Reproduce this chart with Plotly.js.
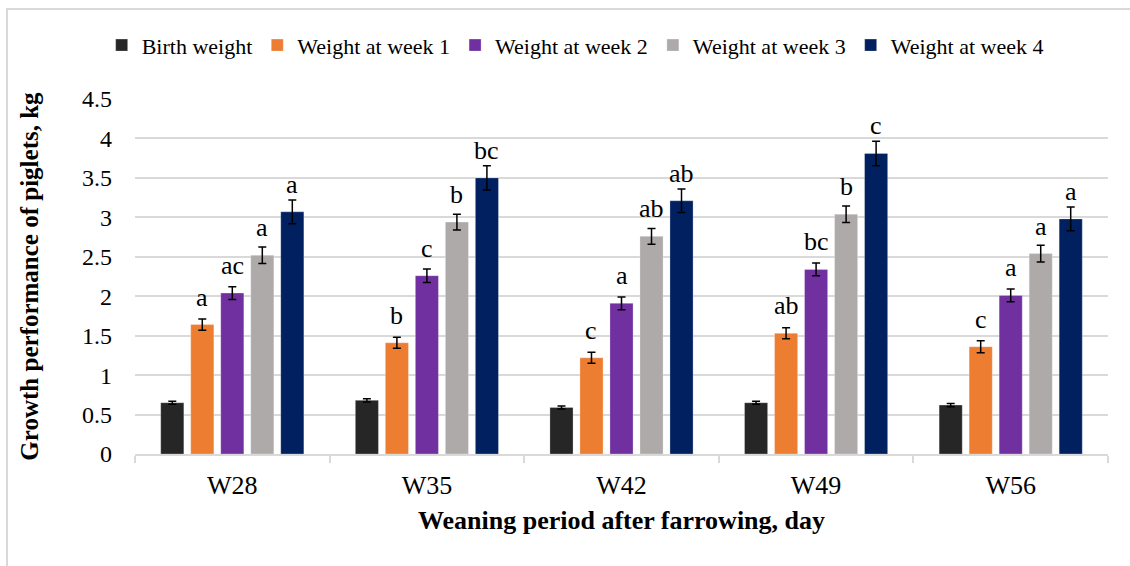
<!DOCTYPE html>
<html>
<head>
<meta charset="utf-8">
<script src="https://cdn.plot.ly/plotly-3.0.1.min.js"></script>
<style>
  html, body { margin: 0; padding: 0; background: #ffffff; }
  #wrap { position: relative; width: 1130px; height: 566px; overflow: hidden; }
  #chart { position: absolute; left: 0; top: 0; width: 1130px; height: 566px; }
  #frame { position: absolute; left: 6px; top: 8px; width: 1200px; height: 700px;
           border-top: 2px solid #d9d9d9; border-left: 2px solid #d9d9d9; pointer-events: none; }
</style>
</head>
<body>
<div id="wrap"><div id="chart"></div><div id="frame"></div></div>
<script>
// ---- data ----
const categories = ["W28", "W35", "W42", "W49", "W56"];
const seriesNames = ["Birth weight", "Weight at week 1", "Weight at week 2", "Weight at week 3", "Weight at week 4"];
const birthWeight = [0.65, 0.68, 0.59, 0.65, 0.62];
const birthErr    = [0.02, 0.02, 0.02, 0.02, 0.02];
const week1       = [1.64, 1.41, 1.22, 1.53, 1.36];
const week1Err    = [0.07, 0.07, 0.07, 0.07, 0.075];
const week2       = [2.04, 2.26, 1.91, 2.34, 2.01];
const week2Err    = [0.08, 0.085, 0.08, 0.08, 0.08];
const week3       = [2.52, 2.94, 2.76, 3.04, 2.54];
const week3Err    = [0.105, 0.10, 0.10, 0.105, 0.105];
const week4       = [3.07, 3.50, 3.21, 3.81, 2.98];
const week4Err    = [0.15, 0.155, 0.15, 0.155, 0.15];
const birthLetters = ["", "", "", "", ""];
const week1Letters = ["a", "b", "c", "ab", "c"];
const week2Letters = ["ac", "c", "a", "bc", "a"];
const week3Letters = ["a", "b", "ab", "b", "a"];
const week4Letters = ["a", "bc", "ab", "c", "a"];
const yTickVals = [0, 0.5, 1, 1.5, 2, 2.5, 3, 3.5, 4, 4.5];
const yTickText = ["0", "0.5", "1", "1.5", "2", "2.5", "3", "3.5", "4", "4.5"];

// ---- styling ----
const colors = ["#262626", "#ED7D31", "#7030A0", "#AEAAAA", "#002060"];
const FONT = "Liberation Serif";
const W = 1130, H = 566;
const margin = { l: 135, r: 22, t: 99, b: 112, pad: 0 };
const bargap = 0.229;

const values = [birthWeight, week1, week2, week3, week4];
const errors = [birthErr, week1Err, week2Err, week3Err, week4Err];
const letters = [birthLetters, week1Letters, week2Letters, week3Letters, week4Letters];

const traces = values.map((v, i) => ({
  type: "bar",
  name: seriesNames[i],
  x: categories,
  y: v,
  marker: { color: colors[i], line: { width: 0.8, color: "rgba(255,255,255,0.35)" } },
  error_y: { type: "data", array: errors[i], visible: true, color: "#000000", thickness: 1.5, width: 4 },
  hoverinfo: "x+y+name"
}));

const plotW = W - margin.l - margin.r;
const slot = (plotW / categories.length) * (1 - bargap) / seriesNames.length;
const annotations = [];
letters.forEach((arr, i) => {
  arr.forEach((t, j) => {
    if (!t) return;
    annotations.push({
      x: categories[j], y: values[i][j], xref: "x", yref: "y",
      text: t, showarrow: false, xanchor: "center", yanchor: "bottom",
      xshift: (i - (seriesNames.length - 1) / 2) * slot, yshift: 11,
      font: { family: FONT, size: 26, color: "#000000" }
    });
  });
});

const layout = {
  width: W, height: H,
  margin: margin,
  font: { family: FONT, color: "#000000" },
  paper_bgcolor: "rgba(0,0,0,0)",
  plot_bgcolor: "rgba(0,0,0,0)",
  barmode: "group",
  bargap: bargap,
  bargroupgap: 0.23,
  showlegend: true,
  legend: {
    orientation: "h", xref: "container", yref: "container",
    x: 0.509, xanchor: "center", y: 0.92, yanchor: "middle",
    font: { family: FONT, size: 22, color: "#000000" },
    traceorder: "normal", itemclick: false, itemdoubleclick: false
  },
  xaxis: {
    type: "category",
    tickfont: { family: FONT, size: 26, color: "#000000" },
    showline: true, linecolor: "#d9d9d9", linewidth: 1.5,
    ticks: "outside", tickson: "boundaries", ticklen: 7, tickcolor: "#d9d9d9", tickwidth: 1.5,
    ticklabelstandoff: 7,
    showgrid: false, zeroline: false, automargin: false,
    title: { text: "<b>Weaning period after farrowing, day</b>", font: { family: FONT, size: 26, color: "#000000" }, standoff: 12 }
  },
  yaxis: {
    range: [0, 4.5],
    tickvals: yTickVals, ticktext: yTickText,
    tickfont: { family: FONT, size: 24, color: "#000000" },
    showgrid: true, gridcolor: "#d9d9d9", gridwidth: 1.5,
    zeroline: false, showline: false, ticks: "",
    ticklabelstandoff: 22, automargin: false,
    title: { text: "<b>Growth performance of piglets, kg</b>", font: { family: FONT, size: 25, color: "#000000" }, standoff: 36 }
  },
  annotations: annotations
};

Plotly.newPlot("chart", traces, layout, { displayModeBar: false, staticPlot: false });
</script>
</body>
</html>
